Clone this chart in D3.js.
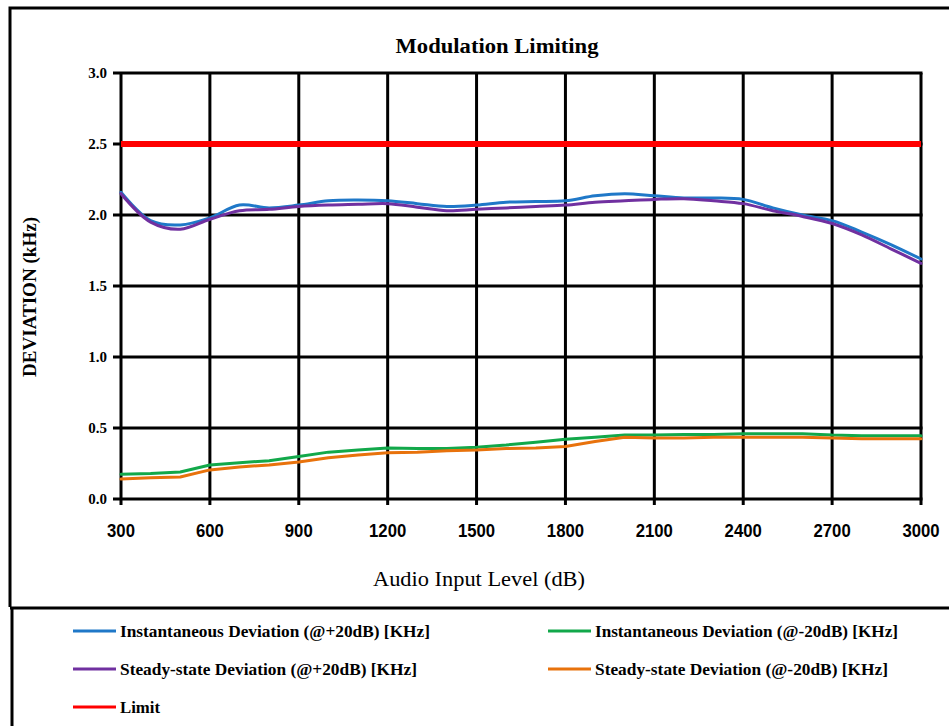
<!DOCTYPE html>
<html><head><meta charset="utf-8">
<script src="https://cdn.jsdelivr.net/npm/d3@7"></script>
<style>body{margin:0;background:#fff}svg{display:block}</style>
</head><body>
<svg id="c" width="949" height="726"></svg>
<script>
const xValues = [300,400,500,600,700,800,900,1000,1100,1200,1300,1400,1500,1600,1700,1800,1900,2000,2100,2200,2300,2400,2500,2600,2700,2800,2900,3000];
const instPlus = [2.16,1.96,1.93,1.98,2.07,2.05,2.07,2.10,2.105,2.10,2.08,2.06,2.07,2.09,2.095,2.10,2.135,2.15,2.135,2.12,2.12,2.11,2.05,2.00,1.96,1.88,1.79,1.69];
const steadyPlus = [2.15,1.95,1.90,1.97,2.03,2.04,2.06,2.07,2.075,2.08,2.055,2.03,2.04,2.05,2.06,2.07,2.09,2.10,2.11,2.115,2.10,2.08,2.03,1.99,1.94,1.86,1.76,1.66];
const instMinus = [0.175,0.18,0.19,0.24,0.255,0.27,0.30,0.33,0.345,0.36,0.355,0.355,0.365,0.38,0.40,0.42,0.435,0.45,0.45,0.455,0.455,0.46,0.46,0.46,0.45,0.445,0.445,0.445];
const steadyMinus = [0.14,0.15,0.155,0.205,0.225,0.24,0.26,0.29,0.31,0.325,0.33,0.34,0.345,0.355,0.36,0.37,0.405,0.435,0.43,0.43,0.435,0.435,0.435,0.435,0.43,0.425,0.425,0.425];
const limit = [2.5,2.5];
const limitX = [300,3000];
const xTicks = [300,600,900,1200,1500,1800,2100,2400,2700,3000];
const xTickLabels = ["300","600","900","1200","1500","1800","2100","2400","2700","3000"];
const yTicks = [0,0.5,1.0,1.5,2.0,2.5,3.0];
const seriesNames = ["Instantaneous Deviation (@+20dB) [KHz]","Instantaneous Deviation (@-20dB) [KHz]","Steady-state Deviation (@+20dB) [KHz]","Steady-state Deviation (@-20dB) [KHz]","Limit"];
const seriesColors = ["#1f78c8","#12a84a","#7030a0","#e8720c","#ff0000"];

const svg = d3.select("#c");
const x = d3.scaleLinear().domain([300,3000]).range([121,921]);
const y = d3.scaleLinear().domain([0,3]).range([499,73]);

// borders
svg.append("path").attr("d","M10,607 V8 H949").attr("fill","none").attr("stroke","#000").attr("stroke-width",3);
svg.append("line").attr("x1",10).attr("x2",949).attr("y1",608).attr("y2",608).attr("stroke","#000").attr("stroke-width",3);
svg.append("line").attr("x1",12).attr("x2",12).attr("y1",608).attr("y2",726).attr("stroke","#000").attr("stroke-width",3);

// grid
const g = svg.append("g");
g.selectAll(".vg").data(xTicks).join("line")
  .attr("x1",d=>x(d)).attr("x2",d=>x(d)).attr("y1",y(3)).attr("y2",y(0)+6)
  .attr("stroke","#000").attr("stroke-width",3);
g.selectAll(".hg").data(yTicks).join("line")
  .attr("x1",x(300)-8).attr("x2",x(3000)+1.5).attr("y1",d=>y(d)).attr("y2",d=>y(d))
  .attr("stroke","#000").attr("stroke-width",3);

// tick labels
g.selectAll(".yl").data(yTicks).join("text")
  .attr("x",107).attr("y",d=>y(d)+5).attr("text-anchor","end")
  .attr("font-family","Liberation Serif").attr("font-weight","bold").attr("font-size",15)
  .text(d=>d3.format(".1f")(d));
g.selectAll(".xl").data(xTicks).join("text")
  .attr("x",d=>x(d)).attr("y",537).attr("text-anchor","middle")
  .attr("font-family","Liberation Sans").attr("font-weight","bold").attr("font-size",18)
  .attr("textLength",(d,i)=>xTickLabels[i].length*9.3).attr("lengthAdjust","spacingAndGlyphs")
  .text((d,i)=>xTickLabels[i]);

// titles
svg.append("text").attr("x",497).attr("y",53).attr("text-anchor","middle")
  .attr("font-family","Liberation Serif").attr("font-weight","bold").attr("font-size",20)
  .attr("textLength",203).attr("lengthAdjust","spacingAndGlyphs").text("Modulation Limiting");
svg.append("text").attr("transform","translate(36,297) rotate(-90)").attr("text-anchor","middle")
  .attr("font-family","Liberation Serif").attr("font-weight","bold").attr("font-size",18)
  .attr("textLength",160).attr("lengthAdjust","spacingAndGlyphs").text("DEVIATION (kHz)");
svg.append("text").attr("x",479).attr("y",586).attr("text-anchor","middle")
  .attr("font-family","Liberation Serif").attr("font-size",20)
  .attr("textLength",212).attr("lengthAdjust","spacingAndGlyphs").text("Audio Input Level (dB)");

// lines
const smooth = d3.line().x((d,i)=>x(xValues[i])).y(d=>y(d)).curve(d3.curveCatmullRom.alpha(0.5));
const lin = d3.line().x((d,i)=>x(xValues[i])).y(d=>y(d));
const lim = d3.line().x((d,i)=>x(limitX[i])).y(d=>y(d));
const lg = svg.append("g").attr("fill","none").attr("stroke-linejoin","round").attr("stroke-linecap","round");
lg.append("path").attr("d",lin(instMinus)).attr("stroke",seriesColors[1]).attr("stroke-width",3);
lg.append("path").attr("d",lin(steadyMinus)).attr("stroke",seriesColors[3]).attr("stroke-width",3);
lg.append("path").attr("d",smooth(instPlus)).attr("stroke",seriesColors[0]).attr("stroke-width",3);
lg.append("path").attr("d",smooth(steadyPlus)).attr("stroke",seriesColors[2]).attr("stroke-width",3);
lg.append("path").attr("d",lim(limit)).attr("stroke",seriesColors[4]).attr("stroke-width",6).attr("stroke-linecap","butt");

// legend
const legPos = [[73,631],[548,631],[73,669],[548,669],[73,707]];
const legLen = [310,303,297,293,40];
const leg = svg.append("g");
seriesNames.forEach((n,i)=>{
  const [lx,ly]=legPos[i];
  leg.append("line").attr("x1",lx).attr("x2",lx+43).attr("y1",ly).attr("y2",ly)
    .attr("stroke",seriesColors[i]).attr("stroke-width",3);
  leg.append("text").attr("x",lx+47).attr("y",ly+6)
    .attr("font-family","Liberation Serif").attr("font-weight","bold").attr("font-size",17)
    .attr("textLength",legLen[i]).attr("lengthAdjust","spacingAndGlyphs").text(n);
});
</script>
</body></html>
